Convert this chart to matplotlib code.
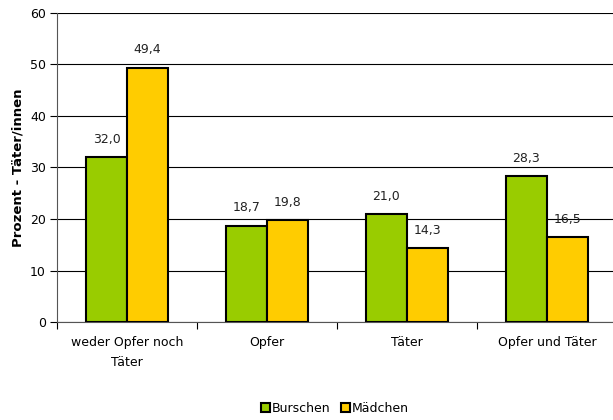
import numpy as np
import matplotlib.pyplot as plt
from matplotlib.patches import Patch

categories = ["weder Opfer noch\nTäter", "Opfer", "Täter", "Opfer und Täter"]
burschen = [32.0, 18.7, 21.0, 28.3]
maedchen = [49.4, 19.8, 14.3, 16.5]
series_names = ["Burschen", "Mädchen"]

green = "#99CC00"
yellow = "#FFCC00"

fig = plt.figure(figsize=(6.13, 4.2), dpi=100)
ax = fig.add_axes([57 / 613, (420 - 322) / 420, 560 / 613, 309 / 420])

x = np.arange(len(categories))
w = 0.293
b1 = ax.bar(x - w / 2, burschen, w, color=green, edgecolor="black", linewidth=1.5, zorder=3)
b2 = ax.bar(x + w / 2, maedchen, w, color=yellow, edgecolor="black", linewidth=1.5, zorder=3)

def fmt(v):
    return ("%.1f" % v).replace(".", ",")

for bars, vals in [(b1, burschen), (b2, maedchen)]:
    for r, v in zip(bars, vals):
        ax.text(r.get_x() + r.get_width() / 2, v + 2.2, fmt(v), ha="center", va="bottom",
                fontsize=9, color="#222222")

ax.set_xlim(-0.5, 3.5)
ax.set_ylim(0, 60)
ax.set_yticks(range(0, 61, 10))
ax.yaxis.grid(True, color="black", linewidth=0.8, zorder=0)
ax.set_xticks(np.arange(-0.5, 3.5, 1.0))
ax.set_xticklabels([])
ax.set_xticks(x, minor=True)
ax.set_xticklabels(categories, minor=True, fontsize=9, linespacing=1.7)
ax.tick_params(axis="x", which="minor", length=0, pad=10)
ax.tick_params(axis="x", which="major", length=5, direction="out")
ax.tick_params(axis="y", length=5, labelsize=9, pad=3)
for s in ["top", "right"]:
    ax.spines[s].set_visible(False)
ax.spines["left"].set_color("#555555")
ax.spines["bottom"].set_color("#555555")
ax.set_ylabel("Prozent - Täter/innen", fontsize=9.5, fontweight="bold", labelpad=4)

handles = [Patch(facecolor=green, edgecolor="black", linewidth=1.5),
           Patch(facecolor=yellow, edgecolor="black", linewidth=1.5)]
fig.legend(handles, series_names, loc="center", bbox_to_anchor=(335 / 613, 1 - 408 / 420),
           ncol=2, frameon=False, fontsize=9, handlelength=0.7, handleheight=0.7,
           handletextpad=0.2, columnspacing=0.8)

fig.savefig("out.png", dpi=100)
